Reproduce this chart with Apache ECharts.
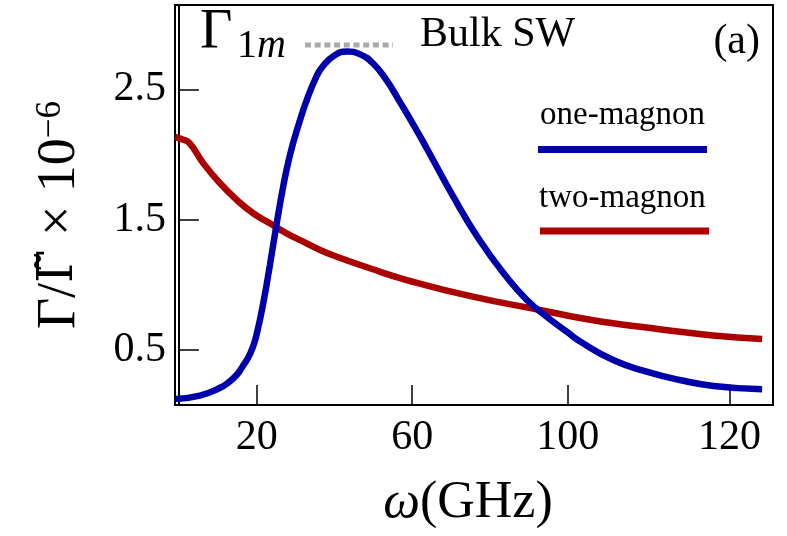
<!DOCTYPE html>
<html><head><meta charset="utf-8">
<script src="https://cdn.jsdelivr.net/npm/echarts@6/dist/echarts.min.js"></script>
<style>html,body{margin:0;padding:0;background:#fff}#c{width:787px;height:536px}</style>
</head><body><div id="c"></div>
<script>
// ---- data ----
const oneMagnonX = [-1, 5.4, 10.6, 12.7, 14.9, 16.3, 17.8, 19, 20, 21.7, 23.4, 25.1, 26.8, 28.6, 30.7, 32.9, 35.4, 37.1, 40, 43.2, 46.5, 49.9, 53.4, 56.9, 60.3, 63.7, 70.5, 77.4, 84.3, 89.5, 94.6, 100, 103.2, 111.7, 120.3, 128.8, 137.5, 150];
const oneMagnonY = [0.124, 0.15, 0.21, 0.25, 0.31, 0.37, 0.44, 0.52, 0.62, 0.86, 1.15, 1.46, 1.75, 2.0, 2.22, 2.42, 2.6, 2.68, 2.76, 2.79, 2.77, 2.70, 2.57, 2.40, 2.23, 2.05, 1.68, 1.34, 1.06, 0.884, 0.755, 0.635, 0.565, 0.423, 0.334, 0.27, 0.224, 0.198];
const twoMagnonX = [-1, 1.0, 2.8, 6.3, 10.6, 14.9, 19.1, 23.4, 27.7, 32.0, 36.3, 40.6, 49.1, 58.6, 75.6, 92.9, 103.2, 111.7, 120.3, 128.8, 137.4, 150];
const twoMagnonY = [2.134, 2.115, 2.086, 1.932, 1.779, 1.651, 1.549, 1.472, 1.395, 1.331, 1.267, 1.216, 1.127, 1.037, 0.909, 0.807, 0.745, 0.705, 0.672, 0.64, 0.612, 0.585];
const xTickValues = [20, 60, 100, 141.6];
const xTickLabels = ['20', '60', '100', '120'];
const yTickValues = [0.5, 1.5, 2.5];
const yTickLabels = ['0.5', '1.5', '2.5'];
const seriesNames = ['one-magnon', 'two-magnon'];

const FONT = 'Liberation Serif';
const BLUE = '#0000AA', RED = '#AA0000';
const zip = (xs, ys) => xs.map((x, i) => [x, ys[i]]);

const chart = echarts.init(document.getElementById('c'), null, {renderer: 'canvas'});
chart.setOption({
  animation: false,
  backgroundColor: '#fff',
  grid: {left: 175, right: 14, top: 5, bottom: 131, show: true, borderColor: '#000', borderWidth: 2, containLabel: false},
  xAxis: {
    type: 'value', min: -1, max: 152.8,
    axisLine: {show: true, lineStyle: {color: '#000', width: 2}},
    axisTick: {show: true, inside: true, length: 20, lineStyle: {color: '#000', width: 1.5}, customValues: xTickValues},
    axisLabel: {color: '#000', fontFamily: FONT, fontSize: 42, margin: 12, customValues: xTickValues,
      formatter: v => { const i = xTickValues.indexOf(v); return i >= 0 ? xTickLabels[i] : ''; }},
    splitLine: {show: false},
    name: '{i|ω}(GHz)', nameLocation: 'middle', nameGap: 72,
    nameTextStyle: {color: '#000', fontFamily: FONT, fontSize: 52, padding: [0, 12, 0, 0],
      rich: {i: {fontStyle: 'italic', fontFamily: FONT, fontSize: 52, color: '#000'}}}
  },
  yAxis: {
    type: 'value', min: 0.078, max: 3.147,
    axisLine: {show: true, lineStyle: {color: '#000', width: 2}},
    axisTick: {show: true, inside: true, length: 20, lineStyle: {color: '#000', width: 1.5}, customValues: yTickValues},
    axisLabel: {color: '#000', fontFamily: FONT, fontSize: 42, margin: 9, customValues: yTickValues,
      formatter: v => { const i = yTickValues.indexOf(v); return i >= 0 ? yTickLabels[i] : ''; }},
    splitLine: {show: false},
    name: '{a|Γ/}{t|Γ\u0303}{a| × 10}{s|−6}', nameLocation: 'middle', nameGap: 88, nameRotate: 90,
    nameTextStyle: {color: '#000', fontFamily: FONT, fontSize: 54, padding: [0, 20, 0, 0],
      rich: {a: {fontFamily: FONT, fontSize: 54, color: '#000'},
             t: {fontFamily: 'DejaVu Serif', fontSize: 48, color: '#000'},
             s: {fontFamily: FONT, fontSize: 35, color: '#000', verticalAlign: 'top'}}}
  },
  series: [
    {name: seriesNames[0], type: 'line', data: zip(oneMagnonX, oneMagnonY), showSymbol: false, smooth: 0.5,
     lineStyle: {color: BLUE, width: 6.5}, itemStyle: {color: BLUE}, clip: true, z: 3},
    {name: seriesNames[1], type: 'line', data: zip(twoMagnonX, twoMagnonY), showSymbol: false, smooth: 0.5,
     lineStyle: {color: RED, width: 6.5}, itemStyle: {color: RED}, clip: true, z: 2}
  ],
  graphic: [
    {type: 'text', x: 200, y: 33, style: {text: 'Γ', font: '56px "Liberation Serif"', fill: '#000', verticalAlign: 'middle'}},
    {type: 'text', x: 237, y: 46, style: {text: '{n|1}{m|m}', verticalAlign: 'middle', fill: '#000',
      rich: {n: {fontFamily: FONT, fontSize: 40, fill: '#000'}, m: {fontFamily: FONT, fontSize: 40, fontStyle: 'italic', fill: '#000'}}}},
    {type: 'line', shape: {x1: 305, y1: 45, x2: 393, y2: 45}, style: {stroke: '#aaaaaa', lineWidth: 5, lineDash: [6, 3.7]}},
    {type: 'text', x: 420, y: 34.5, style: {text: 'Bulk SW', font: '42px "Liberation Serif"', fill: '#000', verticalAlign: 'middle'}},
    {type: 'text', x: 760, y: 41.5, style: {text: '(a)', font: '42px "Liberation Serif"', fill: '#000', verticalAlign: 'middle', align: 'right'}},
    {type: 'text', x: 540, y: 115, style: {text: seriesNames[0], font: '33px "Liberation Serif"', fill: '#000', verticalAlign: 'middle'}},
    {type: 'line', shape: {x1: 538, y1: 149.5, x2: 707, y2: 149.5}, style: {stroke: BLUE, lineWidth: 7}},
    {type: 'text', x: 539, y: 198.5, style: {text: seriesNames[1], font: '33px "Liberation Serif"', fill: '#000', verticalAlign: 'middle'}},
    {type: 'line', shape: {x1: 540, y1: 231, x2: 709, y2: 231}, style: {stroke: RED, lineWidth: 7}}
  ]
});
</script>
</body></html>
